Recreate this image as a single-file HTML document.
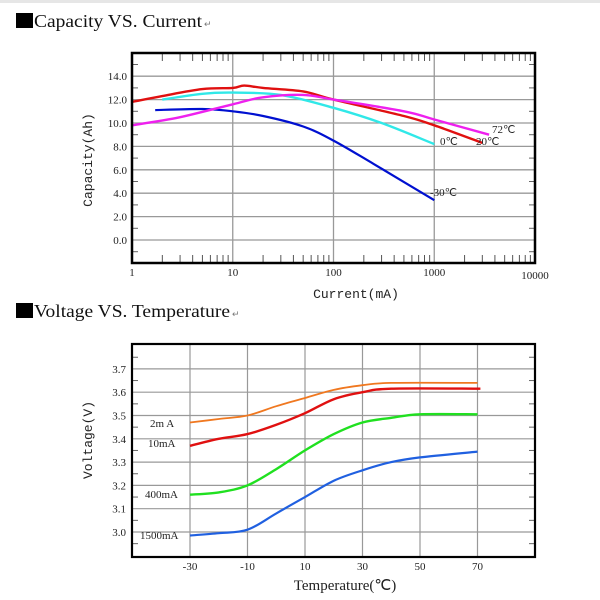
<!DOCTYPE html>
<html><head><meta charset="utf-8"><style>
body{margin:0;background:#fff;width:600px;height:600px;overflow:hidden}
svg{display:block}
.t{font-family:"Liberation Serif",serif;font-size:11px;fill:#222}
</style></head><body>
<svg id="s" width="600" height="600" xmlns="http://www.w3.org/2000/svg">
<rect x="0" y="0" width="600" height="3" fill="#e6e6e6"/>
<rect x="16" y="13" width="17" height="15" fill="#000"/>
<text x="34" y="27" font-family="Liberation Serif,serif" font-size="18" fill="#111" textLength="168" lengthAdjust="spacingAndGlyphs">Capacity VS. Current</text>
<text x="204" y="27" font-family="Liberation Sans,sans-serif" font-size="9" fill="#777">↵</text>
<rect x="16" y="303" width="17" height="15" fill="#000"/>
<text x="34" y="317" font-family="Liberation Serif,serif" font-size="18" fill="#111" textLength="196" lengthAdjust="spacingAndGlyphs">Voltage VS. Temperature</text>
<text x="232" y="317" font-family="Liberation Sans,sans-serif" font-size="9" fill="#777">↵</text>
<g id="g1"></g><g id="g2"></g>
<text transform="translate(92,160) rotate(-90)" text-anchor="middle" font-family="Liberation Mono,monospace" font-size="13" fill="#222">Capacity(Ah)</text>
<text x="356" y="298" text-anchor="middle" font-family="Liberation Mono,monospace" font-size="13" fill="#222">Current(mA)</text>
<text transform="translate(92,440) rotate(-90)" text-anchor="middle" font-family="Liberation Mono,monospace" font-size="13" fill="#222">Voltage(V)</text>
<text x="345" y="590" text-anchor="middle" font-family="Liberation Serif,serif" font-size="15" fill="#222">Temperature(℃)</text>
</svg>
<script>
var NS="http://www.w3.org/2000/svg";
function el(p,n,a,txt){var e=document.createElementNS(NS,n);for(var k in a)e.setAttribute(k,a[k]);if(txt)e.textContent=txt;p.appendChild(e);return e;}
var g=document.getElementById('g1');
var L=132,R=535,T=53,B=263;
function X1(m){return L+Math.log10(m)*100.75;}
function Y1(v){return 240-v*11.7;}
for(var v=0;v<=14;v+=2){el(g,'line',{x1:L,x2:R,y1:Y1(v),y2:Y1(v),stroke:'#999','stroke-width':1.3});
 el(g,'text',{x:127,y:Y1(v)+4,'text-anchor':'end','class':'t'},v.toFixed(1));}
for(var v=-1;v<=15;v+=2){el(g,'line',{x1:L,x2:L+6,y1:Y1(v),y2:Y1(v),stroke:'#666'});el(g,'line',{x1:R-6,x2:R,y1:Y1(v),y2:Y1(v),stroke:'#666'});}
for(var d=0;d<4;d++){for(var k=2;k<=9;k++){var x=X1(k*Math.pow(10,d));
 el(g,'line',{x1:x,x2:x,y1:T,y2:T+8,stroke:'#555'});el(g,'line',{x1:x,x2:x,y1:B-8,y2:B,stroke:'#555'});}}
[1,10,100,1000].forEach(function(m){var x=X1(m);el(g,'line',{x1:x,x2:x,y1:T,y2:B,stroke:'#999','stroke-width':1.3});});
[["1",1],["10",10],["100",100],["1000",1000]].forEach(function(a){el(g,'text',{x:X1(a[1]),y:276,'text-anchor':'middle','class':'t'},a[0]);});
el(g,'text',{x:X1(10000),y:279,'text-anchor':'middle','class':'t'},"10000");
function curve(p,data,X,Y,col,w){var P=data.map(function(q){return [X(q[0]),Y(q[1])];});
 var d='M'+P[0][0].toFixed(1)+','+P[0][1].toFixed(1);
 for(var i=0;i<P.length-1;i++){var p0=P[Math.max(0,i-1)],p1=P[i],p2=P[i+1],p3=P[Math.min(P.length-1,i+2)];
  var c1=[p1[0]+(p2[0]-p0[0])/6,p1[1]+(p2[1]-p0[1])/6],c2=[p2[0]-(p3[0]-p1[0])/6,p2[1]-(p3[1]-p1[1])/6];
  d+=' C'+c1[0].toFixed(1)+','+c1[1].toFixed(1)+' '+c2[0].toFixed(1)+','+c2[1].toFixed(1)+' '+p2[0].toFixed(1)+','+p2[1].toFixed(1);}
 el(p,'path',{d:d,fill:'none',stroke:col,'stroke-width':w,'stroke-linejoin':'round'});}
curve(g,[[1.7,11.1],[5,11.2],[10,11.0],[20,10.6],[50,9.7],[100,8.5],[250,6.5],[1000,3.4]],X1,Y1,'#0010d0',2.2);
curve(g,[[2,12.0],[5,12.5],[10,12.6],[30,12.4],[100,11.3],[300,10.0],[1000,8.2]],X1,Y1,'#30e8e8',2.4);
curve(g,[[1,11.8],[2,12.3],[5,12.9],[10,13.0],[13,13.2],[20,13.0],[50,12.7],[100,12.0],[500,10.6],[1000,9.8],[3000,8.3]],X1,Y1,'#e01010',2.4);
curve(g,[[1,9.8],[3,10.5],[10,11.6],[20,12.2],[50,12.4],[100,12.0],[500,11.0],[1000,10.3],[3500,9.0]],X1,Y1,'#ee20ee',2.4);
el(g,'rect',{x:L,y:T,width:R-L,height:B-T,fill:'none',stroke:'#000','stroke-width':2.5});
el(g,'text',{x:492,y:133,'class':'t'},"72℃");el(g,'text',{x:440,y:145,'class':'t'},"0℃");
el(g,'text',{x:476,y:145,'class':'t'},"20℃");el(g,'text',{x:430,y:196,'class':'t'},"-30℃");
g=document.getElementById('g2');
L=132;R=535;T=344;B=557;
function X2(t){return 190+(t+30)*2.875;}
function Y2(v){return 532-(v-3.0)*233;}
for(var i=0;i<=7;i++){var v=3+i*0.1;el(g,'line',{x1:L,x2:R,y1:Y2(v),y2:Y2(v),stroke:'#999','stroke-width':1.2});
 el(g,'text',{x:126,y:Y2(v)+4,'text-anchor':'end','class':'t'},v.toFixed(1));}
for(var i=-1;i<=7;i++){var v=3.05+i*0.1;el(g,'line',{x1:L,x2:L+6,y1:Y2(v),y2:Y2(v),stroke:'#666'});el(g,'line',{x1:R-6,x2:R,y1:Y2(v),y2:Y2(v),stroke:'#666'});}
[-30,-10,10,30,50,70].forEach(function(t){el(g,'line',{x1:X2(t),x2:X2(t),y1:T,y2:B,stroke:'#999','stroke-width':1.2});
 el(g,'text',{x:X2(t),y:570,'text-anchor':'middle','class':'t'},String(t));});
curve(g,[[-30,3.47],[-20,3.485],[-10,3.5],[0,3.54],[10,3.575],[20,3.61],[30,3.63],[40,3.64],[70,3.64]],X2,Y2,'#f07820',1.8);
curve(g,[[-30,3.37],[-20,3.40],[-10,3.42],[0,3.46],[10,3.51],[20,3.57],[30,3.60],[40,3.615],[71,3.615]],X2,Y2,'#e01010',2.4);
curve(g,[[-30,3.16],[-20,3.17],[-10,3.2],[0,3.27],[10,3.35],[20,3.42],[30,3.47],[40,3.49],[50,3.505],[70,3.505]],X2,Y2,'#20e020',2.4);
curve(g,[[-30,2.985],[-20,2.995],[-10,3.01],[0,3.08],[10,3.15],[20,3.22],[30,3.265],[40,3.3],[50,3.32],[70,3.345]],X2,Y2,'#2060e0',2.2);
el(g,'rect',{x:L,y:T,width:R-L,height:B-T,fill:'none',stroke:'#000','stroke-width':2.2});
el(g,'text',{x:150,y:427,'class':'t'},"2m A");el(g,'text',{x:148,y:447,'class':'t'},"10mA");
el(g,'text',{x:145,y:498,'class':'t'},"400mA");el(g,'text',{x:140,y:539,'class':'t'},"1500mA");
</script>
</body></html>
